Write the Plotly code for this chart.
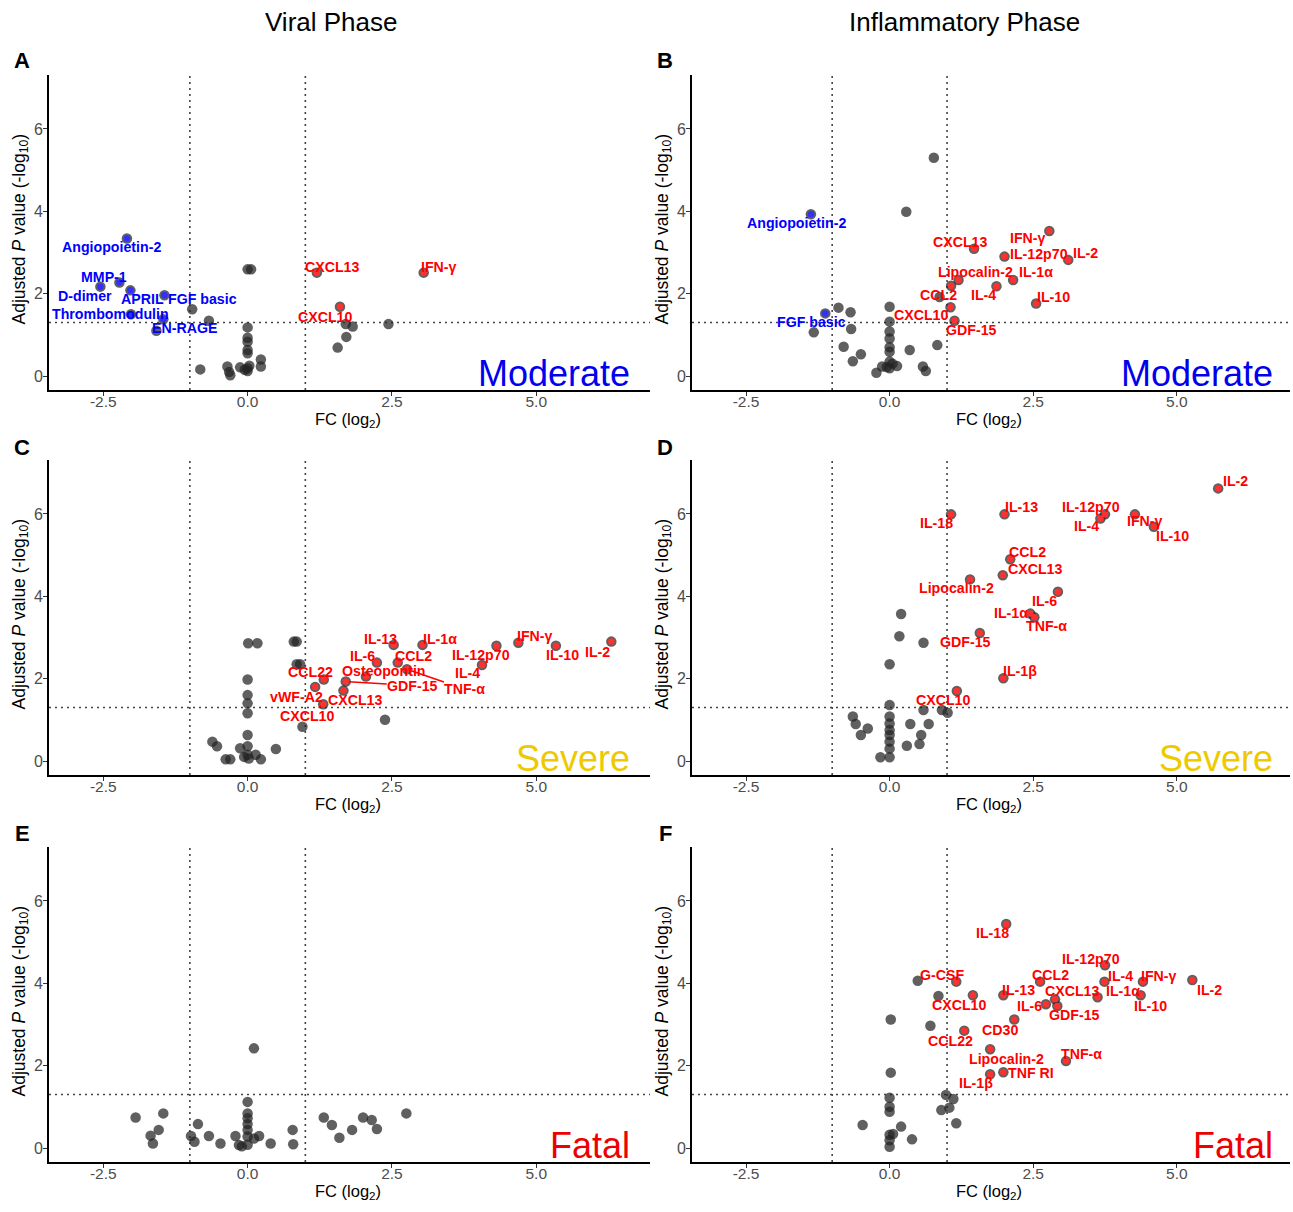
import plotly.graph_objects as go

W, H = 1293, 1212

# ---------------- data (FC log2, adjusted P -log10) ----------------
# Panel A : Viral phase, Moderate
A_bg_fc = [-0.96, -0.67, -1.58, 0.00, 0.06, 1.70, 1.82, 1.71, 1.56, 2.44, -0.82, -0.35, -0.32,
           -0.30, -0.13, 0.00, 0.00, 0.00, 0.00, 0.00, 0.00, 0.00, 0.03, 0.23, 0.23, -0.05]
A_bg_p = [1.62, 1.34, 1.10, 2.59, 2.59, 1.26, 1.20, 0.95, 0.69, 1.26, 0.16, 0.23, 0.10,
          0.02, 0.21, 1.18, 0.93, 0.83, 0.63, 0.55, 0.19, 0.12, 0.25, 0.40, 0.23, 0.15]
A_names = ["Angiopoietin-2", "MMP-1", "D-dimer", "APRIL", "FGF basic", "Thrombomodulin",
           "EN-RAGE", "CXCL13", "IFN-γ", "CXCL10"]
A_fc = [-2.09, -2.22, -2.55, -2.03, -1.44, -2.02, -1.46, 1.20, 3.05, 1.60]
A_p = [3.34, 2.27, 2.17, 2.08, 1.96, 1.50, 1.38, 2.51, 2.51, 1.68]

# Panel B : Inflammatory phase, Moderate
B_bg_fc = [0.77, 0.29, 0.87, -0.89, -0.68, -1.32, -0.67, -0.80, -0.50, -0.64, -0.23, -0.13, 0.00,
           0.00, 0.00, 0.00, 0.00, 0.00, 0.00, 0.00, 0.13, 0.35, 0.58, 0.63, 0.83, -0.05, 0.05]
B_bg_p = [5.30, 3.99, 1.92, 1.66, 1.55, 1.06, 1.14, 0.71, 0.53, 0.36, 0.08, 0.23, 1.68,
          1.32, 1.08, 0.91, 0.70, 0.59, 0.35, 0.19, 0.24, 0.63, 0.23, 0.12, 0.75, 0.22, 0.30]
B_names = ["Angiopoietin-2", "FGF basic", "CXCL13", "IFN-γ", "IL-12p70", "IL-2", "Lipocalin-2",
           "CCL2", "IL-1α", "IL-4", "IL-10", "CXCL10", "GDF-15"]
B_fc = [-1.37, -1.12, 1.47, 2.78, 2.00, 3.11, 1.20, 1.07, 2.15, 1.86, 2.55, 1.06, 1.13]
B_p = [3.93, 1.52, 3.09, 3.52, 2.90, 2.82, 2.33, 2.19, 2.33, 2.18, 1.76, 1.67, 1.34]

# Panel C : Viral phase, Severe
C_bg_fc = [0.01, 0.17, 0.80, 0.85, 0.85, 0.91, 0.00, 0.00, 0.00, 0.00, 0.95, 0.00, 0.00,
           0.00, -0.61, -0.53, -0.13, 0.49, -0.38, -0.30, -0.06, 0.02, 0.14, 0.23, 2.38]
C_bg_p = [2.86, 2.86, 2.90, 2.90, 2.35, 2.35, 1.98, 1.60, 1.40, 1.16, 0.83, 0.63, 0.36,
          0.15, 0.47, 0.36, 0.31, 0.29, 0.04, 0.04, 0.10, 0.06, 0.15, 0.04, 1.00]
C_names = ["IL-2", "IL-10", "IFN-γ", "IL-12p70", "IL-4", "IL-1α", "IL-13", "CCL2", "IL-6",
           "TNF-α", "Osteopontin", "GDF-15", "CCL22", "vWF-A2", "CXCL13", "CXCL10"]
C_fc = [6.30, 5.34, 4.69, 4.31, 4.06, 3.03, 2.53, 2.60, 2.24, 2.76, 2.05, 1.70, 1.32, 1.17, 1.66, 1.31]
C_p = [2.90, 2.80, 2.87, 2.80, 2.33, 2.82, 2.82, 2.39, 2.39, 2.23, 2.05, 1.93, 1.98, 1.80, 1.71, 1.38]

# Panel D : Inflammatory phase, Severe
D_bg_fc = [0.20, 0.17, 0.59, 0.00, 0.00, 0.00, 0.00, 0.00, 0.00, 0.00, 0.00, 0.00, -0.16,
           -0.64, -0.59, -0.38, -0.50, 0.36, 0.68, 0.59, 0.91, 1.01, 0.55, 0.52, 0.30]
D_bg_p = [3.57, 3.03, 2.87, 2.35, 1.36, 1.08, 0.91, 0.75, 0.63, 0.47, 0.30, 0.09, 0.09,
          1.08, 0.90, 0.79, 0.63, 0.90, 0.90, 1.24, 1.24, 1.17, 0.63, 0.41, 0.37]
D_names = ["IL-2", "IL-13", "IL-18", "IL-12p70", "IL-4", "IFN-γ", "IL-10", "CCL2", "CXCL13",
           "Lipocalin-2", "IL-6", "IL-1α", "TNF-α", "GDF-15", "IL-1β", "CXCL10"]
D_fc = [5.72, 2.00, 1.07, 3.75, 3.67, 4.27, 4.60, 2.10, 1.97, 1.40, 2.93, 2.45, 2.52, 1.57, 1.98, 1.17]
D_p = [6.62, 5.99, 5.99, 5.99, 5.89, 5.99, 5.69, 4.90, 4.51, 4.41, 4.11, 3.58, 3.49, 3.11, 2.01, 1.70]

# Panel E : Viral phase, Fatal (nothing significant)
E_bg_fc = [0.11, 0.00, 0.00, 0.00, 0.00, 0.00, 0.00, 0.00, -1.94, -1.46, -1.54, -1.68, -1.64,
           -0.86, -0.98, -0.92, -0.67, -0.47, -0.21, -0.15, -0.10, 0.20, 0.11, 0.40, 0.78, 0.79,
           1.32, 1.46, 1.59, 1.81, 2.00, 2.15, 2.24, 2.75]
E_bg_p = [2.42, 1.12, 0.84, 0.72, 0.58, 0.44, 0.28, 0.08, 0.74, 0.84, 0.44, 0.30, 0.11,
          0.58, 0.29, 0.15, 0.29, 0.11, 0.29, 0.07, 0.04, 0.29, 0.23, 0.11, 0.44, 0.09,
          0.74, 0.56, 0.25, 0.44, 0.74, 0.68, 0.46, 0.84]
E_names = []
E_fc = []
E_p = []

# Panel F : Inflammatory phase, Fatal
F_bg_fc = [0.49, 0.85, 0.71, 0.02, 0.02, 0.00, 0.00, 0.00, 0.00, 0.00, 0.00, 0.98, 1.11,
           1.04, 0.90, 1.16, 0.20, 0.39, 0.06, -0.47]
F_bg_p = [4.06, 3.69, 2.97, 3.12, 1.83, 1.22, 1.00, 0.88, 0.32, 0.19, 0.03, 1.29, 1.19,
          0.98, 0.92, 0.60, 0.52, 0.21, 0.34, 0.56]
F_names = ["IL-18", "IL-12p70", "IL-4", "IFN-γ", "IL-2", "IL-10", "IL-1α", "CCL2", "CXCL13",
           "GDF-15", "IL-6", "IL-13", "CXCL10", "G-CSF", "CD30", "CCL22", "Lipocalin-2",
           "TNF-α", "TNF RI", "IL-1β"]
F_fc = [2.03, 3.75, 3.74, 4.41, 5.27, 4.37, 3.62, 2.62, 2.88, 2.92, 2.72, 1.98, 1.45, 1.16,
        2.17, 1.30, 1.75, 3.07, 1.98, 1.75]
F_p = [5.44, 4.44, 4.04, 4.04, 4.08, 3.71, 3.66, 4.04, 3.61, 3.45, 3.49, 3.71, 3.71, 4.04,
       3.12, 2.85, 2.40, 2.11, 1.84, 1.79]

# axis / annotation texts
col_titles = ["Viral Phase", "Inflammatory Phase"]
severity = ["Moderate", "Severe", "Fatal"]
panel_letters = ["A", "B", "C", "D", "E", "F"]
x_ticks = [-2.5, 0.0, 2.5, 5.0]
x_ticklabels = ["-2.5", "0.0", "2.5", "5.0"]
y_ticks = [0, 2, 4, 6]
y_ticklabels = ["0", "2", "4", "6"]
FC_CUT = 1.0
P_CUT = 1.30103  # -log10(0.05)

# ---------------- styling / layout (pixel geometry) ----------------
sev_colors = {"Moderate": "#0000EE", "Severe": "#EEC900", "Fatal": "#EE0000"}
UP_TXT, DN_TXT = "#FF0000", "#0000FF"
UP_PT, DN_PT = "#FF3030", "#3030FF"
GREY_PT = "rgba(35,35,35,0.72)"
FONT = "Liberation Sans, Arial, sans-serif"
LAB_SIZE = 14.2

col_l = [49, 692]
col_r = [650, 1290]
row_t = [75, 460, 847]
row_b = [390, 775, 1162]
XR = [-3.44, 6.97]
YR = [-0.34, 7.31]

# label offsets (px; dx right, dy down) of each label centre from its point
OFFS = {
    "A": {"Angiopoietin-2": (-15, 9), "MMP-1": (-15, -6), "D-dimer": (-15, 9), "APRIL": (12, 9),
          "FGF basic": (38, 4), "Thrombomodulin": (-20, 0), "EN-RAGE": (21, 9),
          "CXCL13": (16, -6), "IFN-γ": (15, -6), "CXCL10": (-14, 10)},
    "B": {"Angiopoietin-2": (-14, 9), "FGF basic": (-14, 9), "CXCL13": (-14, -7), "IFN-γ": (-21, 7),
          "IL-12p70": (34, -3), "IL-2": (17, -7), "Lipocalin-2": (17, -8), "CCL2": (-13, 9),
          "IL-1α": (23, -8), "IL-4": (-13, 9), "IL-10": (17, -7), "CXCL10": (-29, 8),
          "GDF-15": (17, 9)},
    "C": {"IL-2": (-14, 10), "IL-10": (7, 9), "IFN-γ": (17, -7), "IL-12p70": (-15, 9),
          "IL-4": (-15, 8), "IL-1α": (17, -6), "IL-13": (-13, -6), "CCL2": (16, -7),
          "IL-6": (-14, -7), "TNF-α": (58, 20), "Osteopontin": (18, -6), "GDF-15": (67, 4),
          "CCL22": (-13, -7), "vWF-A2": (-19, 10), "CXCL13": (12, 9), "CXCL10": (-16, 12)},
    "D": {"IL-2": (17, -7), "IL-13": (17, -7), "IL-18": (-15, 9), "IL-12p70": (-14, -7),
          "IL-4": (-14, 8), "IFN-γ": (10, 7), "IL-10": (19, 9), "CCL2": (17, -7),
          "CXCL13": (33, -6), "Lipocalin-2": (-14, 9), "IL-6": (-13, 9), "IL-1α": (-19, -1),
          "TNF-α": (12, 9), "GDF-15": (-14, 9), "IL-1β": (17, -7), "CXCL10": (-13, 9)},
    "E": {},
    "F": {"IL-18": (-14, 9), "IL-12p70": (-14, -6), "IL-4": (16, -6), "IFN-γ": (16, -6),
          "IL-2": (17, 10), "IL-10": (10, 11), "IL-1α": (25, -6), "CCL2": (10, -7),
          "CXCL13": (17, -8), "GDF-15": (17, 9), "IL-6": (-16, 2), "IL-13": (15, -5),
          "CXCL10": (-13, 10), "G-CSF": (-14, -7), "CD30": (-14, 10), "CCL22": (-14, 10),
          "Lipocalin-2": (16, 10), "TNF-α": (16, -7), "TNF RI": (28, 1), "IL-1β": (-14, 9)},
}
LEADER = {("C", "GDF-15"), ("C", "TNF-α"), ("C", "CXCL10")}


def px2x(px):
    return px / W


def px2y(py):
    return 1 - py / H


panels = [
    ("A", 0, 0, A_bg_fc, A_bg_p, A_names, A_fc, A_p),
    ("B", 0, 1, B_bg_fc, B_bg_p, B_names, B_fc, B_p),
    ("C", 1, 0, C_bg_fc, C_bg_p, C_names, C_fc, C_p),
    ("D", 1, 1, D_bg_fc, D_bg_p, D_names, D_fc, D_p),
    ("E", 2, 0, E_bg_fc, E_bg_p, E_names, E_fc, E_p),
    ("F", 2, 1, F_bg_fc, F_bg_p, F_names, F_fc, F_p),
]

fig = go.Figure()
annotations = []
shapes = []
layout = {}

for i, (letter, r, c, bg_fc, bg_p, names, fc, p) in enumerate(panels):
    k = i + 1
    xa = "x" if k == 1 else f"x{k}"
    ya = "y" if k == 1 else f"y{k}"
    xkey = "xaxis" if k == 1 else f"xaxis{k}"
    ykey = "yaxis" if k == 1 else f"yaxis{k}"

    layout[xkey] = dict(
        domain=[px2x(col_l[c]), px2x(col_r[c])], anchor=ya, range=XR,
        showgrid=False, zeroline=False, showline=True, linecolor="black", linewidth=1.8,
        ticks="outside", ticklen=4, tickwidth=1, tickcolor="#333333",
        tickvals=x_ticks, ticktext=x_ticklabels, ticklabelstandoff=-8,
        tickfont=dict(family=FONT, size=15.5, color="#4D4D4D"),
    )
    layout[ykey] = dict(
        domain=[px2y(row_b[r]), px2y(row_t[r])], anchor=xa, range=YR,
        showgrid=False, zeroline=False, showline=True, linecolor="black", linewidth=1.8,
        ticks="outside", ticklen=4, tickwidth=1, tickcolor="#333333",
        tickvals=y_ticks, ticktext=y_ticklabels, ticklabelstandoff=-3,
        tickfont=dict(family=FONT, size=16, color="#4D4D4D"),
    )

    # threshold lines
    for xv in (-FC_CUT, FC_CUT):
        shapes.append(dict(type="line", xref=xa, yref=f"{ya} domain", x0=xv, x1=xv, y0=0, y1=1,
                           line=dict(color="#444444", width=1.6, dash="2px,4px"), layer="below"))
    shapes.append(dict(type="line", xref=f"{xa} domain", yref=ya, x0=0, x1=1, y0=P_CUT, y1=P_CUT,
                       line=dict(color="#444444", width=1.6, dash="2px,4px"), layer="below"))

    # all points in grey
    all_fc = list(bg_fc) + list(fc)
    all_p = list(bg_p) + list(p)
    fig.add_trace(go.Scatter(x=all_fc, y=all_p, mode="markers", xaxis=xa, yaxis=ya,
                             marker=dict(size=10.5, color=GREY_PT, line=dict(width=0)),
                             showlegend=False, hoverinfo="skip"))
    # significant points coloured
    if names:
        cols = [UP_PT if v > 0 else DN_PT for v in fc]
        fig.add_trace(go.Scatter(x=fc, y=p, mode="markers", xaxis=xa, yaxis=ya,
                                 marker=dict(size=6.5, color=cols, line=dict(width=0)),
                                 text=names, showlegend=False, hoverinfo="text"))
    # labels
    for nm, xv, yv in zip(names, fc, p):
        dx, dy = OFFS[letter].get(nm, (12, -8))
        col = UP_TXT if xv > 0 else DN_TXT
        if (letter, nm) in LEADER:
            annotations.append(dict(x=xv, y=yv, xref=xa, yref=ya, text=f"<b>{nm}</b>",
                                    showarrow=True,
                                    arrowhead=0, arrowwidth=1.6, arrowcolor=col, ax=dx, ay=dy,
                                    standoff=3, borderpad=0,
                                    font=dict(family=FONT, size=LAB_SIZE, color=col)))
        else:
            annotations.append(dict(x=xv, y=yv, xref=xa, yref=ya, text=f"<b>{nm}</b>",
                                    showarrow=False, xshift=dx, yshift=-dy,
                                    xanchor="center", yanchor="middle",
                                    font=dict(family=FONT, size=LAB_SIZE, color=col)))

    # panel letter
    annotations.append(dict(x=px2x(22 + 643 * c), y=px2y(60 + 387 * r), xref="paper", yref="paper",
                            text=f"<b>{letter}</b>", showarrow=False, xanchor="center",
                            yanchor="middle", font=dict(family=FONT, size=22, color="black")))
    # axis titles
    annotations.append(dict(x=px2x((col_l[c] + col_r[c]) / 2 - 2), y=px2y(row_b[r] + 30),
                            xref="paper", yref="paper", text="FC (log<sub>2</sub>)",
                            showarrow=False, xanchor="center", yanchor="middle",
                            font=dict(family=FONT, size=16.5, color="black")))
    annotations.append(dict(x=px2x(20 + 643 * c), y=px2y((row_t[r] + row_b[r]) / 2 - 3),
                            xref="paper", yref="paper",
                            text="Adjusted <i>P</i> value (-log<sub>10</sub>)",
                            showarrow=False, xanchor="center", yanchor="middle", textangle=-90,
                            font=dict(family=FONT, size=17.5, color="black")))
    # severity tag
    sv = severity[r]
    annotations.append(dict(x=px2x(col_l[c] + 583), y=px2y(row_b[r] - 16.5),
                            xref="paper", yref="paper", text=sv, showarrow=False,
                            xanchor="right", yanchor="middle",
                            font=dict(family=FONT, size=36, color=sev_colors[sv])))

# column titles
for c, t in enumerate(col_titles):
    annotations.append(dict(x=px2x(331 + 633 * c), y=px2y(22), xref="paper", yref="paper",
                            text=t, showarrow=False, xanchor="center", yanchor="middle",
                            font=dict(family=FONT, size=26, color="black")))

fig.update_layout(**layout)
fig.update_layout(width=W, height=H, margin=dict(l=0, r=0, t=0, b=0),
                  plot_bgcolor="white", paper_bgcolor="white",
                  annotations=annotations, shapes=shapes, showlegend=False,
                  font=dict(family=FONT))

fig.write_html("out.html", config={"displayModeBar": False},
               post_script="document.body.style.margin='0';")
